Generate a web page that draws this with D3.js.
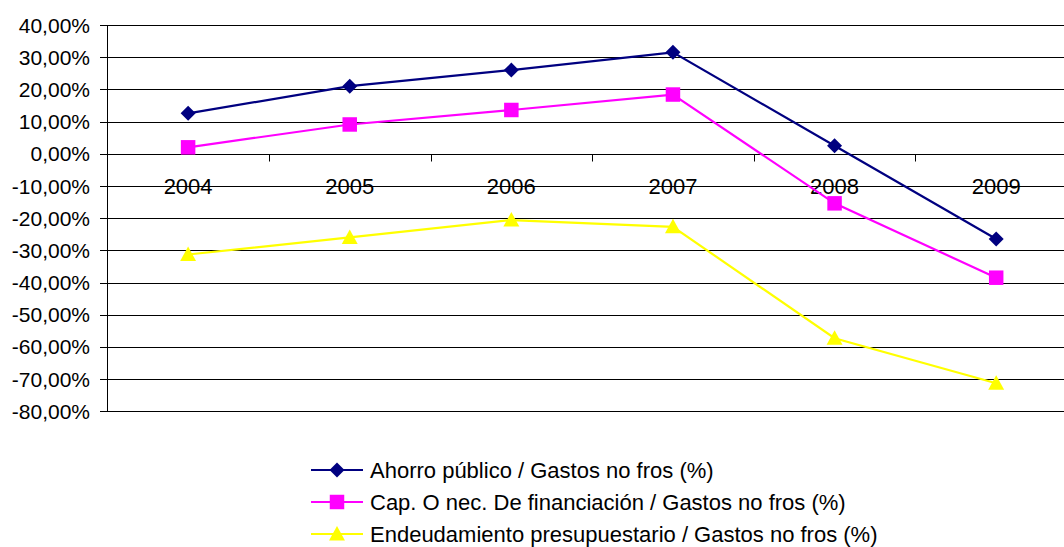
<!DOCTYPE html>
<html><head><meta charset="utf-8">
<script src="https://cdn.jsdelivr.net/npm/d3@7"></script>
<style>body{margin:0;background:#fff}svg{display:block;font-family:"Liberation Sans",Arial,sans-serif}</style>
</head><body><svg id="c" width="1064" height="547"></svg>
<script>
const years = ["2004","2005","2006","2007","2008","2009"];
const ahorro = [12.55, 21.0, 26.0, 31.5, 2.5, -26.5];
const capacidad = [2.0, 9.1, 13.6, 18.4, -15.4, -38.5];
const endeudamiento = [-31.3, -26.0, -20.6, -22.7, -57.3, -71.3];
const yTicks = [40,30,20,10,0,-10,-20,-30,-40,-50,-60,-70,-80];
const seriesNames = ["Ahorro público / Gastos no fros (%)","Cap. O nec. De financiación / Gastos no fros (%)","Endeudamiento presupuestario / Gastos no fros (%)"];

const diamond = {draw(ctx, size){ const r = Math.sqrt(size)/2; ctx.moveTo(0,-r); ctx.lineTo(r,0); ctx.lineTo(0,r); ctx.lineTo(-r,0); ctx.closePath(); }};
const triangle = {draw(ctx, size){ const w = Math.sqrt(size); ctx.moveTo(0,-w*0.55); ctx.lineTo(w*0.55,w*0.45); ctx.lineTo(-w*0.55,w*0.45); ctx.closePath(); }};

const series = [
  {name: seriesNames[0], values: ahorro, color: "#000080", sym: diamond, size: 225},
  {name: seriesNames[1], values: capacidad, color: "#FF00FF", sym: d3.symbolSquare, size: 210},
  {name: seriesNames[2], values: endeudamiento, color: "#FFFF00", sym: triangle, size: 210}
];

const svg = d3.select("#c");
const x = d3.scaleBand().domain(years).range([107.3, 1077]);
const y = d3.scaleLinear().domain([-80, 40]).range([411.3, 25]);
const cx = d => x(d) + x.bandwidth()/2;
const fmt = v => v.toFixed(2).replace(".", ",") + "%";

// gridlines
svg.append("g").selectAll("line").data(yTicks).join("line")
  .attr("x1", 100).attr("x2", 1077)
  .attr("y1", d => Math.round(y(d)) + 0.5).attr("y2", d => Math.round(y(d)) + 0.5)
  .attr("stroke", "#000").attr("stroke-width", 1);

// y axis line
svg.append("line").attr("x1", 107.5).attr("x2", 107.5).attr("y1", y(40)).attr("y2", y(-80)+0.5)
  .attr("stroke", "#000");

// y labels
svg.append("g").selectAll("text").data(yTicks).join("text")
  .attr("x", 90).attr("y", d => y(d)).attr("dy", "0.36em")
  .attr("text-anchor", "end").attr("font-size", 21).attr("fill", "#000")
  .text(fmt);

// category ticks on zero line
const y0 = Math.round(y(0)) + 0.5;
svg.append("g").selectAll("line").data(years.slice(1)).join("line")
  .attr("x1", d => Math.round(x(d)) + 0.5).attr("x2", d => Math.round(x(d)) + 0.5)
  .attr("y1", y0).attr("y2", y0 + 7).attr("stroke", "#000");

// category labels
svg.append("g").selectAll("text").data(years).join("text")
  .attr("x", cx).attr("y", y(-10)).attr("dy", "0.36em")
  .attr("text-anchor", "middle").attr("font-size", 22).attr("fill", "#000")
  .text(d => d);

// lines + markers
const line = d3.line().x((v, i) => cx(years[i])).y(v => y(v));
series.forEach(s => {
  svg.append("path").attr("d", line(s.values)).attr("fill", "none")
    .attr("stroke", s.color).attr("stroke-width", 2.2);
  svg.append("g").selectAll("path").data(s.values).join("path")
    .attr("transform", (v, i) => `translate(${cx(years[i])},${y(v)})`)
    .attr("d", d3.symbol().type(s.sym).size(s.size)).attr("fill", s.color);
});

// legend
const lg = svg.append("g");
series.forEach((s, i) => {
  const ly = 470 + i * 32;
  lg.append("line").attr("x1", 311).attr("x2", 363).attr("y1", ly).attr("y2", ly)
    .attr("stroke", s.color).attr("stroke-width", 2.2);
  lg.append("path").attr("transform", `translate(337,${ly})`)
    .attr("d", d3.symbol().type(s.sym).size(s.size)).attr("fill", s.color);
  lg.append("text").attr("x", 370).attr("y", ly).attr("dy", "0.36em")
    .attr("font-size", 22).attr("fill", "#000").text(s.name);
});
</script></body></html>
